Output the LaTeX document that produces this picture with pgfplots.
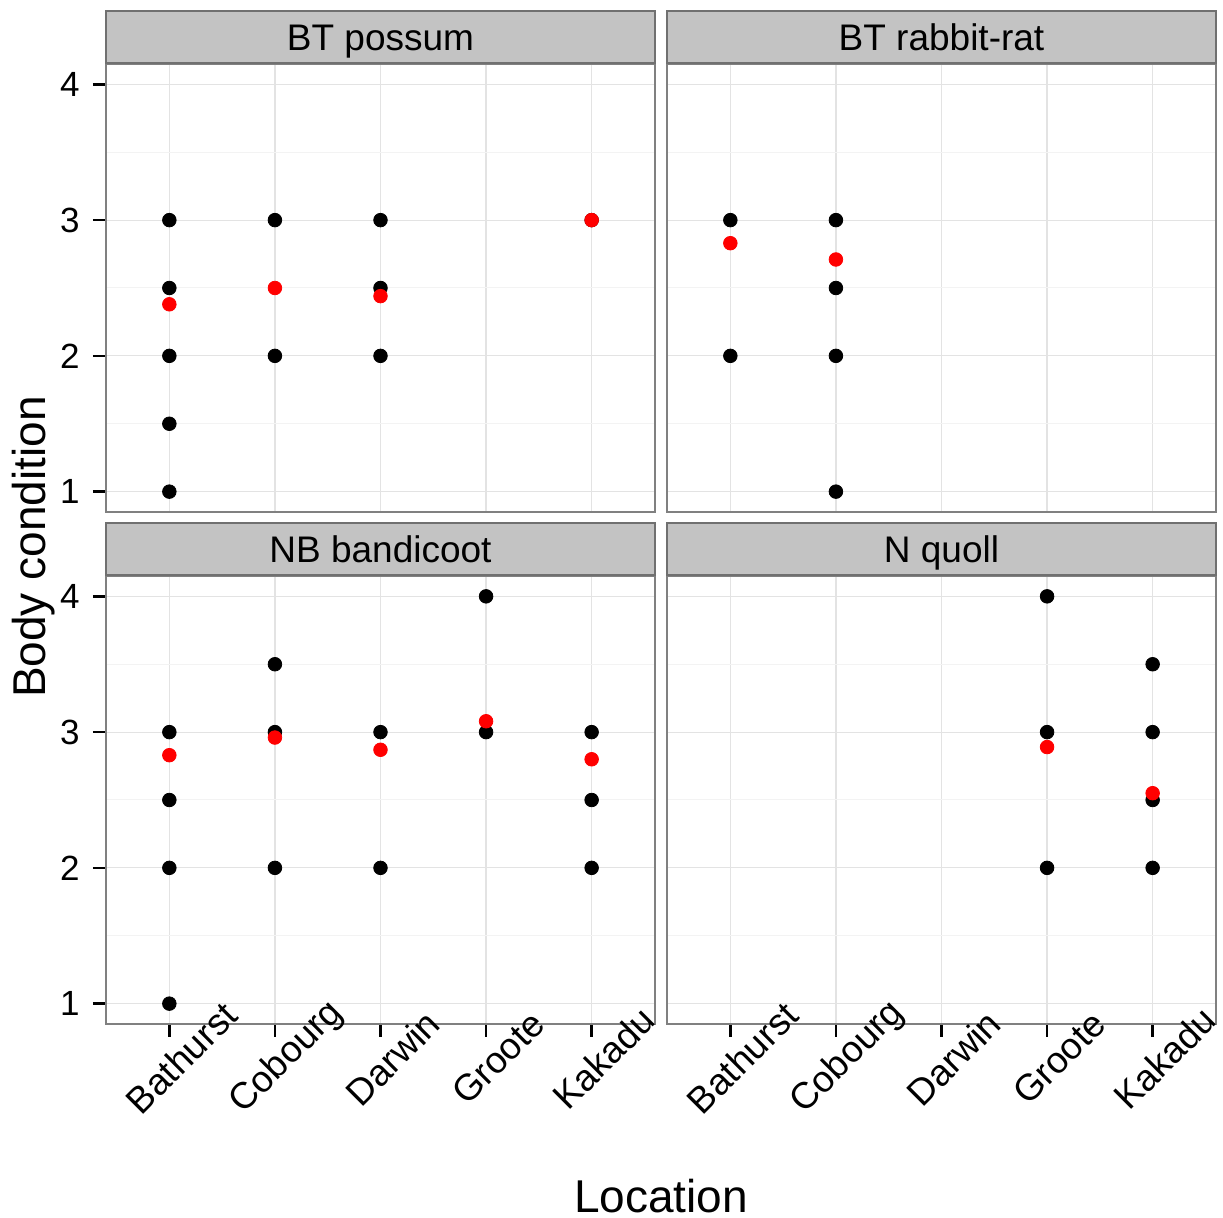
\documentclass[border=0pt]{standalone}
\usepackage{pgfplots}
\pgfplotsset{compat=1.18}
\usepackage{fontspec}
\setmainfont{Liberation Sans}
\definecolor{stripgray}{HTML}{C3C3C3}
\definecolor{stripborder}{HTML}{707070}
\definecolor{panelborder}{HTML}{808080}
\definecolor{gridgray}{HTML}{E3E3E3}
\definecolor{minorgray}{HTML}{F3F3F3}
\definecolor{ptred}{HTML}{FF0000}
\pgfplotsset{
 facet/.style={
  scale only axis, width=274.5pt, height=224pt,
  xmin=0.4, xmax=5.6, ymin=0.85, ymax=4.15,
  xtick={1,2,3,4,5}, ytick={1,2,3,4}, minor ytick={1.5,2.5,3.5},
  xtick pos=bottom, ytick pos=left,
  grid=both,
  major grid style={gridgray, line width=0.6pt},
  minor grid style={minorgray, line width=0.5pt},
  axis line style={panelborder, line width=1pt},
  tick align=outside, major tick length=6.5pt, minor tick length=0pt,
  xtick style={black, line width=1.2pt},
  ytick style={black, line width=1.2pt},
  xticklabels={Bathurst,Cobourg,Darwin,Groote,Kakadu},
  /pgf/number format/assume math mode=true,
  every axis title/.style={at={(0.5,1)}, anchor=south, fill=stripgray, draw=stripborder, line width=1pt,
    minimum width=274.5pt, minimum height=26pt, inner sep=0pt, text height=13.25pt, text depth=0pt,
    font=\fontsize{18.5}{20}\selectfont},
  yticklabel style={font=\fontsize{17.5}{19}\selectfont, anchor=east, inner sep=0pt, xshift=-6.5pt},
  xticklabel style={font=\fontsize{18.5}{20}\selectfont, anchor=center, inner sep=0pt, xshift=6pt, yshift=-10.5pt, rotate=45},
  blk/.style={only marks, mark=*, mark size=3.4pt, black, mark options={draw=black, fill=black}},
  rd/.style={only marks, mark=*, mark size=3.4pt, ptred, mark options={draw=ptred, fill=ptred}},
 },
 notop/.style={xticklabels={}, xtick style={draw=none, line width=0pt, draw opacity=0}},
 noleft/.style={yticklabels={}, ytick style={draw=none, line width=0pt, draw opacity=0}},
}
\begin{document}
\begin{tikzpicture}
\useasboundingbox (0,0) rectangle (611.5pt,-609pt);
% top-left
\begin{axis}[facet, notop, at={(53pt,-32pt)}, anchor=north west, title={BT possum}]
\addplot[blk] coordinates {(1,3) (1,2.5) (1,2) (1,1.5) (1,1) (2,3) (2,2) (3,3) (3,2.5) (3,2) (5,3)};
\addplot[rd] coordinates {(1,2.38) (2,2.5) (3,2.44) (5,3)};
\end{axis}
% top-right
\begin{axis}[facet, notop, noleft, at={(333.5pt,-32pt)}, anchor=north west, title={BT rabbit-rat}]
\addplot[blk] coordinates {(1,3) (1,2) (2,3) (2,2.5) (2,2) (2,1)};
\addplot[rd] coordinates {(1,2.83) (2,2.71)};
\end{axis}
% bottom-left
\begin{axis}[facet, at={(53pt,-288pt)}, anchor=north west, title={NB bandicoot}]
\addplot[blk] coordinates {(1,3) (1,2.5) (1,2) (1,1) (2,3.5) (2,3) (2,2) (3,3) (3,2) (4,4) (4,3) (5,3) (5,2.5) (5,2)};
\addplot[rd] coordinates {(1,2.83) (2,2.96) (3,2.87) (4,3.08) (5,2.80)};
\end{axis}
% bottom-right
\begin{axis}[facet, noleft, at={(333.5pt,-288pt)}, anchor=north west, title={N quoll}]
\addplot[blk] coordinates {(4,4) (4,3) (4,2) (5,3.5) (5,3) (5,2.5) (5,2)};
\addplot[rd] coordinates {(4,2.89) (5,2.55)};
\end{axis}
\node[rotate=90, inner sep=0pt, font=\fontsize{23}{26}\selectfont] at (17pt,-273.5pt) {Body condition};
\node[inner sep=0pt, font=\fontsize{23}{26}\selectfont] at (330.5pt,-598pt) {Location};
\end{tikzpicture}
\end{document}
